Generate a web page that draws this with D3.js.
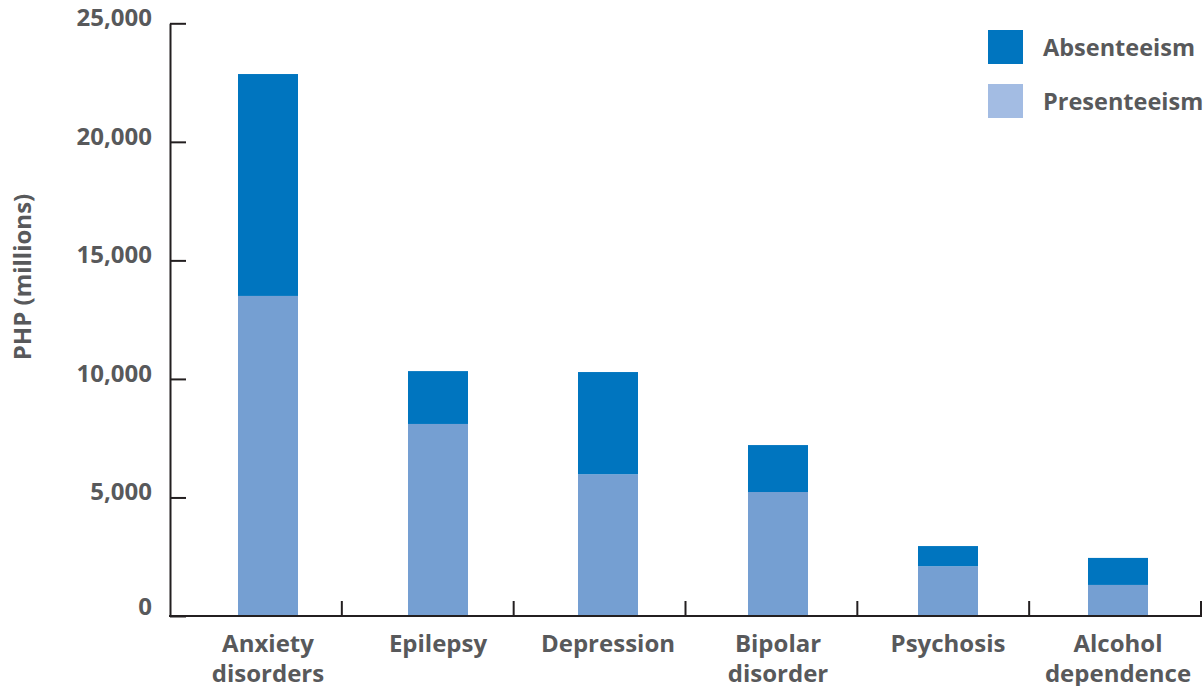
<!DOCTYPE html>
<html>
<head>
<meta charset="utf-8">
<script src="https://cdn.jsdelivr.net/npm/d3@7"></script>
<style>
  html, body { margin: 0; padding: 0; background: #fff; }
  svg { display: block; }
  text { font-family: "Open Sans", "Noto Sans", sans-serif; font-weight: 700; fill: #58595b; }
</style>
</head>
<body>
<svg id="chart" width="1203" height="686"></svg>
<script>
const categories = [["Anxiety", "disorders"], ["Epilepsy"], ["Depression"], ["Bipolar", "disorder"], ["Psychosis"], ["Alcohol", "dependence"]];
const presenteeism = [13500, 8100, 5980, 5230, 2100, 1310];
const absenteeism = [9360, 2230, 4310, 1980, 850, 1140];
const yTicks = [0, 5000, 10000, 15000, 20000, 25000];
const seriesNames = ["Absenteeism", "Presenteeism"];

const keys = categories.map(c => c.join(" "));
const svg = d3.select("#chart");

const y = d3.scaleLinear().domain([0, 25000]).range([616, 23.3]);
const xAxisScale = d3.scaleBand().domain(keys).range([170, 1201]);
const xBar = d3.scaleBand().domain(keys).range([183, 1203]);
const barW = 60;

const colAbs = "#0075bf", colPres = "#759fd2", colPresLegend = "#a3bce3";

// bars
const g = svg.append("g");
keys.forEach((k, i) => {
  const cx = xBar(k) + xBar.bandwidth() / 2;
  g.append("rect")
    .attr("x", cx - barW / 2).attr("width", barW)
    .attr("y", y(presenteeism[i])).attr("height", y(0) - y(presenteeism[i]))
    .attr("fill", colPres);
  g.append("rect")
    .attr("x", cx - barW / 2).attr("width", barW)
    .attr("y", y(presenteeism[i] + absenteeism[i])).attr("height", y(presenteeism[i]) - y(presenteeism[i] + absenteeism[i]))
    .attr("fill", colAbs);
});

// y axis
const yAxis = svg.append("g").attr("transform", "translate(170,0)")
  .call(d3.axisLeft(y).tickValues(yTicks).tickFormat(d3.format(",")).tickSize(-16).tickSizeOuter(0).tickPadding(18));
yAxis.select(".domain").attr("stroke", "#231f20").attr("stroke-width", 2);
yAxis.selectAll(".tick line").attr("stroke", "#231f20").attr("stroke-width", 2);
yAxis.selectAll(".tick text")
  .attr("font-size", 24).attr("fill", "#58595b")
  .attr("font-family", "'Open Sans', sans-serif").attr("font-weight", 700)
  .attr("dy", d => d === 0 ? "-0.05em" : "0.1em");

// x axis
const xAxis = svg.append("g");
xAxis.append("line")
  .attr("x1", 169).attr("x2", 1202).attr("y1", y(0)).attr("y2", y(0))
  .attr("stroke", "#231f20").attr("stroke-width", 2);
keys.forEach(k => {
  const bx = xAxisScale(k) + xAxisScale.step();
  xAxis.append("line")
    .attr("x1", bx).attr("x2", bx).attr("y1", y(0)).attr("y2", y(0) - 15)
    .attr("stroke", "#231f20").attr("stroke-width", 2);
});

// category labels
keys.forEach((k, i) => {
  const cx = xBar(k) + xBar.bandwidth() / 2;
  const t = svg.append("text").attr("text-anchor", "middle").attr("font-size", 24);
  categories[i].forEach((line, j) => {
    t.append("tspan").attr("x", cx).attr("y", 652 + j * 30).text(line);
  });
});

// y axis title
svg.append("text")
  .attr("transform", "translate(31,277) rotate(-90)")
  .attr("text-anchor", "middle").attr("font-size", 24)
  .text("PHP (millions)");

// legend
const legendColors = [colAbs, colPresLegend];
seriesNames.forEach((name, i) => {
  svg.append("rect").attr("x", 988).attr("y", 30 + i * 54).attr("width", 35).attr("height", 34).attr("fill", legendColors[i]);
  svg.append("text").attr("x", 1043).attr("y", 56 + i * 54).attr("font-size", 23.5).text(name);
});
</script>
</body>
</html>
